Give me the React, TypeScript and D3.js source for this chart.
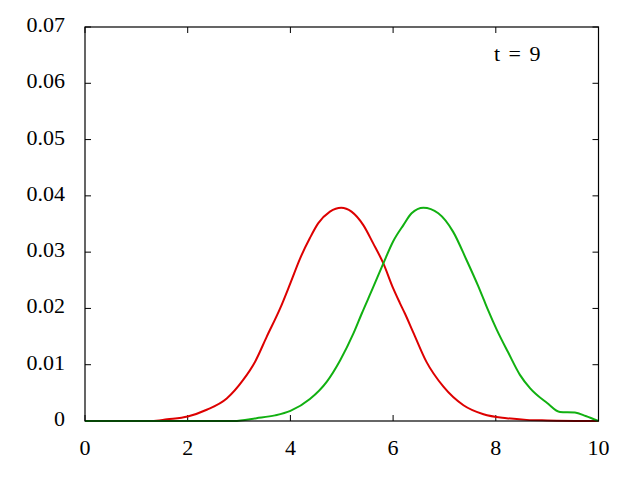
import React from "react";
import * as d3 from "d3";

const redX = [0, 1.3, 1.6, 2.0, 2.37, 2.76, 3.08, 3.31, 3.54, 3.8, 4.0, 4.19, 4.38, 4.54, 4.77, 4.99, 5.19, 5.42, 5.61, 5.81, 6.0, 6.13, 6.23, 6.39, 6.65, 6.98, 7.37, 7.76, 8.21, 8.6, 9.0, 10];
const redY = [0, 0, 0.0003, 0.0008, 0.002, 0.004, 0.0073, 0.0105, 0.015, 0.020, 0.0245, 0.0289, 0.0325, 0.0351, 0.0372, 0.0379, 0.0372, 0.0348, 0.0316, 0.028, 0.0236, 0.021, 0.0191, 0.0158, 0.0105, 0.0061, 0.0028, 0.0012, 0.0005, 0.0002, 0.0001, 0];

const greenX = [0, 2.9, 3.34, 3.7, 4.0, 4.38, 4.71, 4.97, 5.23, 5.39, 5.6, 5.81, 6.0, 6.2, 6.36, 6.59, 6.88, 7.17, 7.43, 7.66, 7.76, 7.85, 8.02, 8.24, 8.47, 8.67, 9.0, 9.25, 9.54, 9.75, 10];
const greenY = [0, 0, 0.0005, 0.001, 0.0018, 0.0039, 0.007, 0.0108, 0.0156, 0.0191, 0.0235, 0.028, 0.0319, 0.0348, 0.0369, 0.0379, 0.0369, 0.0336, 0.0286, 0.0239, 0.0217, 0.0197, 0.0162, 0.0122, 0.0082, 0.0058, 0.0032, 0.0016, 0.0015, 0.0009, 0];

const xTicks = [0, 2, 4, 6, 8, 10];
const yTicks = [0, 0.01, 0.02, 0.03, 0.04, 0.05, 0.06, 0.07];
const yTickLabels = ["0", "0.01", "0.02", "0.03", "0.04", "0.05", "0.06", "0.07"];
const label = "t = 9";

export default function App() {
  const W = 640, H = 480;
  const left = 85, right = 598.5, top = 27, bottom = 421;
  const x = d3.scaleLinear().domain([0, 10]).range([left, right]);
  const y = d3.scaleLinear().domain([0, 0.07]).range([bottom, top]);
  const line = d3.line<[number, number]>().x(d => x(d[0])).y(d => y(d[1])).curve(d3.curveMonotoneX);
  const red = line(redX.map((v, i) => [v, redY[i]] as [number, number])) || "";
  const green = line(greenX.map((v, i) => [v, greenY[i]] as [number, number])) || "";
  const tl = 6;
  const font = "Liberation Serif, Times New Roman, Times, serif";
  return (
    <svg width={W} height={H} style={{ position: "absolute", left: 0, top: 0, background: "#fff" }}>
      <rect x={0} y={0} width={W} height={H} fill="#fff" />
      {xTicks.map(t => (
        <g key={"x" + t}>
          <line x1={x(t)} x2={x(t)} y1={bottom} y2={bottom - tl} stroke="#000" strokeWidth={1} />
          <line x1={x(t)} x2={x(t)} y1={top} y2={top + tl} stroke="#000" strokeWidth={1} />
          <text x={x(t)} y={455} textAnchor="middle" style={{ fontFamily: font }} fontSize={22} fill="#000">{t}</text>
        </g>
      ))}
      {yTicks.map((t, i) => (
        <g key={"y" + t}>
          <line x1={left} x2={left + tl} y1={y(t)} y2={y(t)} stroke="#000" strokeWidth={1} />
          <line x1={right} x2={right - tl} y1={y(t)} y2={y(t)} stroke="#000" strokeWidth={1} />
          <text x={65} y={y(t) + 5} textAnchor="end" style={{ fontFamily: font }} fontSize={22} fill="#000">{yTickLabels[i]}</text>
        </g>
      ))}
      <path d={red} fill="none" stroke="#dd0000" strokeWidth={2} strokeLinejoin="round" />
      <path d={green} fill="none" stroke="#11b011" strokeWidth={2} strokeLinejoin="round" />
      <rect x={left} y={top} width={right - left} height={bottom - top} fill="none" stroke="#000" strokeWidth={1.2} />
      <text x={494} y={61} style={{ fontFamily: font, wordSpacing: "3px" }} fontSize={22} fill="#000">{label}</text>
    </svg>
  );
}
